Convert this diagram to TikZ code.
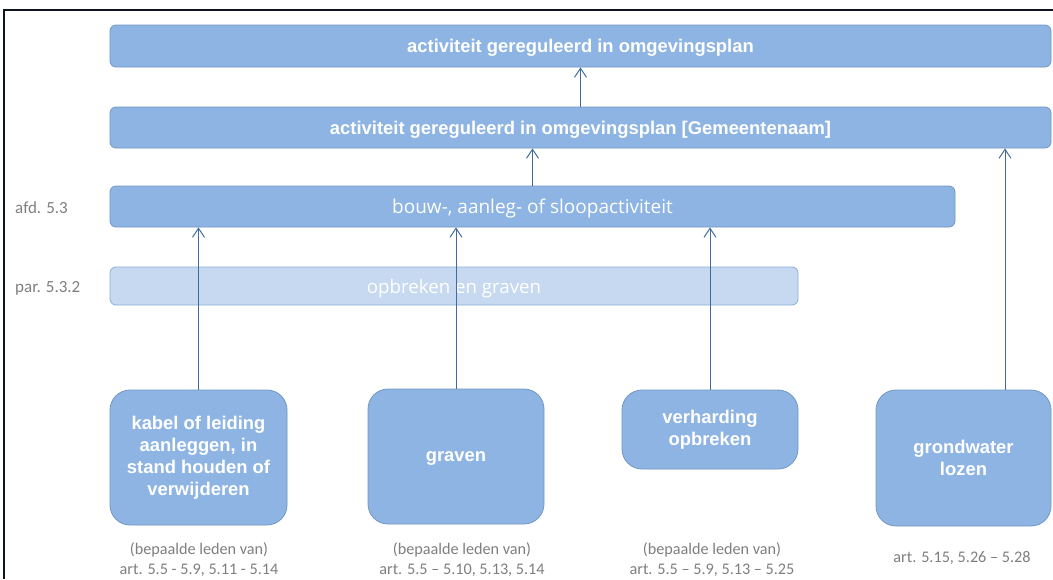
\documentclass[tikz,border=0pt]{standalone}
\usepackage{fontspec}
\setmainfont{Liberation Sans}
\newfontfamily\boxfont{Liberation Sans}
\newfontfamily\midfont{Open Sans}
\newfontfamily\capfont{Carlito}
\usetikzlibrary{arrows.meta,calc}
\definecolor{boxfill}{HTML}{8DB4E2}
\definecolor{boxedge}{HTML}{7397C4}
\definecolor{lightfill}{HTML}{C6D9F0}
\definecolor{lightedge}{HTML}{8DAFD8}
\definecolor{arrowc}{HTML}{3E6A9C}
\definecolor{capgray}{HTML}{7F7F7F}
\definecolor{frame}{HTML}{0E1420}
\begin{document}
\begin{tikzpicture}[x=1pt,y=-1pt,
  widebox/.style={draw=boxedge, fill=boxfill, line width=0.8pt, rounded corners=6pt, inner sep=0pt, text=white, text depth=0pt},
  lightbox/.style={draw=lightedge, fill=lightfill, line width=0.8pt, rounded corners=6pt, inner sep=0pt, text=white, text depth=0pt},
  actbox/.style={draw=boxedge, fill=boxfill, line width=0.8pt, rounded corners=20pt, inner sep=0pt, text=white, align=center, font=\boxfont\bfseries\fontsize{18.4}{22}\selectfont},
  conn/.style={draw=arrowc, line width=1pt, -{Straight Barb[length=9pt,width=12pt,line width=1pt]}},
  caption/.style={text=capgray, align=center, font=\capfont\fontsize{16.2}{20}\selectfont},
  side/.style={text=capgray, anchor=west, inner sep=0pt, font=\capfont\fontsize{17}{18}\selectfont}]
\useasboundingbox (0,0) rectangle (1053,579);
\fill[white] (0,0) rectangle (1053,579);
\draw[frame, line width=2pt] (4,579) -- (4,10) -- (1053,10);

\node[widebox, minimum width=941pt, minimum height=42pt, font=\boxfont\bfseries\fontsize{18.4}{20}\selectfont] (top) at (580.5,46) {activiteit gereguleerd in omgevingsplan};
\node[widebox, minimum width=941pt, minimum height=41pt, font=\boxfont\bfseries\fontsize{18.4}{20}\selectfont] (gem) at (580.5,127.5) {activiteit gereguleerd in omgevingsplan [Gemeentenaam]};
\node[widebox, minimum width=845pt, minimum height=41pt, font=\midfont\fontsize{19}{20}\selectfont] (bas) at (532.5,206.5) {bouw-, aanleg- of sloopactiviteit};
\node[lightbox, minimum width=688pt, minimum height=38pt, font=\midfont\fontsize{18.7}{20}\selectfont] (opg) at (454,286) {opbreken en graven};

\node[side] (afd) at (15,208) {afd. 5.3};
\node[side] (par) at (15,288) {par. 5.3.2};

\node[actbox, minimum width=177pt, minimum height=135pt] (kab) at (198.5,457.5) {kabel of leiding\\aanleggen, in\\stand houden of\\verwijderen};
\node[actbox, minimum width=176pt, minimum height=135pt, text depth=0pt] (grv) at (456,456.5) {graven};
\node[actbox, minimum width=176pt, minimum height=79pt] (ver) at (710,429.5) {verharding\\opbreken};
\node[actbox, minimum width=175pt, minimum height=136pt] (gwl) at (963.5,458) {grondwater\\lozen};

\node[caption] (ckab) at (199,560) {(bepaalde leden van)\\art. 5.5 - 5.9, 5.11 - 5.14};
\node[caption] (cgrv) at (462,560) {(bepaalde leden van)\\art. 5.5 – 5.10, 5.13, 5.14};
\node[caption] (cver) at (712,560) {(bepaalde leden van)\\art. 5.5 – 5.9, 5.13 – 5.25};
\node[caption] (cgwl) at (962,558) {art. 5.15, 5.26 – 5.28};

\coordinate (gwlout) at ($(gwl.north)+(41.5,0)$);
\draw[conn] (kab.north) -- (kab.north |- bas.south);
\draw[conn] (grv.north) -- (grv.north |- bas.south);
\draw[conn] (ver.north) -- (ver.north |- bas.south);
\draw[conn] (gwlout) -- (gwlout |- gem.south);
\draw[conn] (bas.north) -- (bas.north |- gem.south);
\draw[conn] (gem.north) -- (gem.north |- top.south);
\end{tikzpicture}
\end{document}
